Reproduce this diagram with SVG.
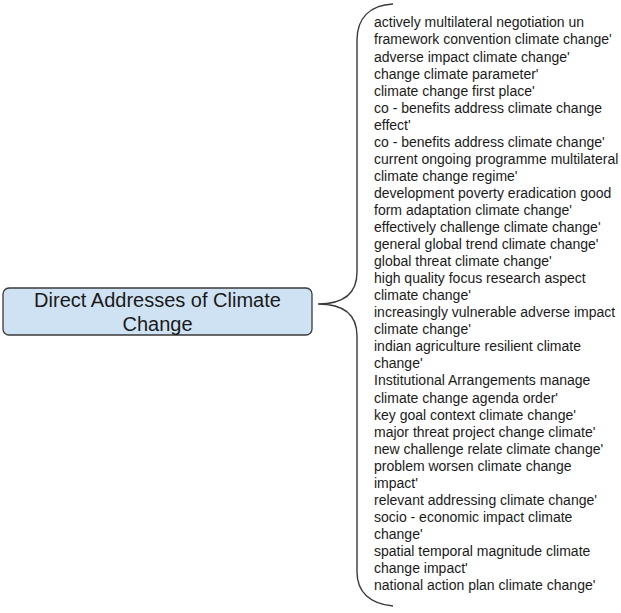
<svg xmlns="http://www.w3.org/2000/svg" width="621" height="613" viewBox="0 0 621 613">
<style>
.bg{fill:#ffffff}
.node{fill:#cfe2f3;stroke:#3a3a3a;stroke-width:1.3}
.title{font-family:"Liberation Sans",Arial,sans-serif;font-size:20px;fill:#1a1a1a;text-anchor:middle}
.item{font-family:"Liberation Sans",Arial,sans-serif;font-size:14px;fill:#1a1a1a}
.brace{fill:none;stroke:#3a3a3a;stroke-width:1.4}
</style>
<rect class="bg" x="0" y="0" width="621" height="613"/>
<g id="connectors">
<path class="brace" d="M 393 4 C 370 5 357 18 357 40 L 357 272 C 357 292 345 304 318 304 C 345 304 357 316 357 336 L 357 572 C 357 592 370 604 393 606"/>
</g>
<g id="node-main">
<rect class="node" x="3" y="288" width="309" height="47" rx="6" ry="6"/>
<text class="title" x="157.5" y="306.5">Direct Addresses of Climate</text>
<text class="title" x="157.5" y="330.5">Change</text>
</g>
<g id="node-list">
<text class="item" x="374">
<tspan x="374" y="27.4">actively multilateral negotiation un</tspan>
<tspan x="374" y="44.45">framework convention climate change'</tspan>
<tspan x="374" y="61.5">adverse impact climate change'</tspan>
<tspan x="374" y="78.55">change climate parameter'</tspan>
<tspan x="374" y="95.6">climate change first place'</tspan>
<tspan x="374" y="112.65">co - benefits address climate change</tspan>
<tspan x="374" y="129.7">effect'</tspan>
<tspan x="374" y="146.75">co - benefits address climate change'</tspan>
<tspan x="374" y="163.8">current ongoing programme multilateral</tspan>
<tspan x="374" y="180.85">climate change regime'</tspan>
<tspan x="374" y="197.9">development poverty eradication good</tspan>
<tspan x="374" y="214.95">form adaptation climate change'</tspan>
<tspan x="374" y="232">effectively challenge climate change'</tspan>
<tspan x="374" y="249.05">general global trend climate change'</tspan>
<tspan x="374" y="266.1">global threat climate change'</tspan>
<tspan x="374" y="283.15">high quality focus research aspect</tspan>
<tspan x="374" y="300.2">climate change'</tspan>
<tspan x="374" y="317.25">increasingly vulnerable adverse impact</tspan>
<tspan x="374" y="334.3">climate change'</tspan>
<tspan x="374" y="351.35">indian agriculture resilient climate</tspan>
<tspan x="374" y="368.4">change'</tspan>
<tspan x="374" y="385.45">Institutional Arrangements manage</tspan>
<tspan x="374" y="402.5">climate change agenda order'</tspan>
<tspan x="374" y="419.55">key goal context climate change'</tspan>
<tspan x="374" y="436.6">major threat project change climate'</tspan>
<tspan x="374" y="453.65">new challenge relate climate change'</tspan>
<tspan x="374" y="470.7">problem worsen climate change</tspan>
<tspan x="374" y="487.75">impact'</tspan>
<tspan x="374" y="504.8">relevant addressing climate change'</tspan>
<tspan x="374" y="521.85">socio - economic impact climate</tspan>
<tspan x="374" y="538.9">change'</tspan>
<tspan x="374" y="555.95">spatial temporal magnitude climate</tspan>
<tspan x="374" y="573">change impact'</tspan>
<tspan x="374" y="590.05">national action plan climate change'</tspan>
</text>
</g>
</svg>
